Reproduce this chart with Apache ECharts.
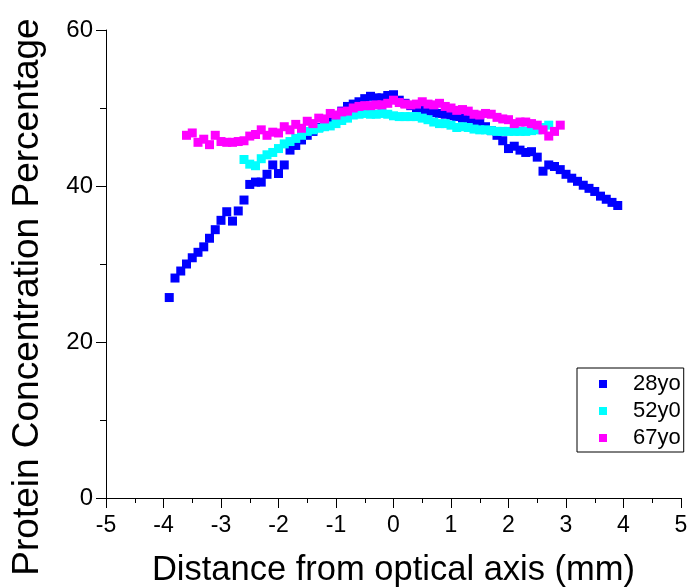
<!DOCTYPE html>
<html>
<head>
<meta charset="utf-8">
<script src="https://cdn.jsdelivr.net/npm/echarts@6/dist/echarts.min.js"></script>
<style>
html,body{margin:0;padding:0;background:#fff;}
#chart{width:689px;height:588px;}
</style>
</head>
<body>
<div id="chart"></div>
<script>
var seriesNames = ['28yo', '52y0', '67yo'];

var x28 = [-3.9,-3.8,-3.7,-3.6,-3.5,-3.4,-3.3,-3.2,-3.1,-3.0,-2.9,-2.8,-2.7,-2.6,-2.5,-2.4,-2.3,-2.2,-2.1,-2.0,
  -1.9,-1.8,-1.7,-1.6,-1.5,-1.4,-1.3,-1.2,-1.1,-1.0,-0.9,-0.8,-0.7,-0.6,-0.5,-0.4,-0.3,-0.2,-0.1,0.0,
  0.1,0.2,0.3,0.4,0.5,0.6,0.7,0.8,0.9,1.0,1.1,1.2,1.3,1.4,1.5,1.6,1.7,1.8,1.9,2.0,
  2.1,2.2,2.3,2.4,2.5,2.6,2.7,2.8,2.9,3.0,3.1,3.2,3.3,3.4,3.5,3.6,3.7,3.8,3.9];
var y28 = [25.7,28.2,29.1,30.0,30.8,31.5,32.2,33.3,34.4,35.6,36.7,35.5,36.8,38.2,40.2,40.5,40.5,41.5,42.7,41.6,
  42.7,44.6,45.2,45.9,46.5,47.0,47.5,48.0,48.5,49.0,49.6,50.2,50.5,50.8,51.2,51.5,51.3,51.3,51.6,51.7,
  51.0,50.6,50.3,50.0,49.8,49.6,49.4,49.3,49.2,49.0,48.9,48.7,48.5,48.3,48.2,47.6,47.1,46.5,45.8,44.8,
  45.1,44.6,44.3,44.4,43.7,41.9,42.7,42.5,42.1,41.5,41.0,40.6,40.1,39.7,39.3,38.7,38.3,37.9,37.5];

var x52 = [-2.6,-2.5,-2.4,-2.3,-2.2,-2.1,-2.0,-1.9,-1.8,-1.7,-1.6,-1.5,-1.4,-1.3,-1.2,-1.1,-1.0,-0.9,-0.8,-0.7,
  -0.6,-0.5,-0.4,-0.3,-0.2,-0.1,0.0,0.1,0.2,0.3,0.4,0.5,0.6,0.7,0.8,0.9,1.0,1.1,1.2,1.3,
  1.4,1.5,1.6,1.7,1.8,1.9,2.0,2.1,2.2,2.3,2.4,2.5,2.6,2.7];
var y52 = [43.4,42.8,42.6,43.5,44.0,44.3,44.8,45.4,45.7,46.1,46.5,47.0,47.2,47.4,47.6,47.7,48.0,48.4,48.7,49.1,
  49.2,49.3,49.2,49.2,49.3,49.2,49.0,48.9,48.9,48.9,48.9,48.7,48.5,48.2,48.0,48.0,47.8,47.5,47.6,47.5,
  47.3,47.2,47.2,47.1,47.0,47.0,47.0,47.0,47.0,47.0,47.1,47.2,47.5,47.8];

var x67 = [-3.6,-3.5,-3.4,-3.3,-3.2,-3.1,-3.0,-2.9,-2.8,-2.7,-2.6,-2.5,-2.4,-2.3,-2.2,-2.1,-2.0,-1.9,-1.8,-1.7,
  -1.6,-1.5,-1.4,-1.3,-1.2,-1.1,-1.0,-0.9,-0.8,-0.7,-0.6,-0.5,-0.4,-0.3,-0.2,-0.1,0.0,0.1,0.2,0.3,
  0.4,0.5,0.6,0.7,0.8,0.9,1.0,1.1,1.2,1.3,1.4,1.5,1.6,1.7,1.8,1.9,2.0,2.1,2.2,2.3,
  2.4,2.5,2.6,2.7,2.8,2.9];
var y67 = [46.5,46.8,45.6,46.0,45.3,46.5,45.7,45.6,45.6,45.7,45.8,46.4,46.6,47.2,46.5,46.9,46.8,47.6,47.2,47.9,
  47.4,48.3,48.0,48.7,48.6,49.3,49.1,49.5,49.6,50.0,50.2,50.3,50.3,50.4,50.4,50.6,51.0,50.7,50.5,50.4,
  50.5,50.8,50.5,50.4,50.6,50.2,50.0,49.7,49.8,49.6,49.2,49.1,49.3,49.2,48.8,48.6,48.5,48.0,48.2,48.2,
  48.0,47.8,47.2,46.4,47.0,47.8];

var xTicks = [-5,-4,-3,-2,-1,0,1,2,3,4,5];
var yTicks = [0,20,40,60];
var colors = ['#0000FF', '#00FFFF', '#FF00FF'];

function pairs(xs, ys) {
  var out = [];
  for (var i = 0; i < xs.length; i++) out.push([xs[i], ys[i]]);
  return out;
}
var allData = [pairs(x28, y28), pairs(x52, y52), pairs(x67, y67)];

var font = '"Liberation Sans", Arial, Helvetica, sans-serif';
var chart = echarts.init(document.getElementById('chart'), null, {renderer: 'canvas'});
chart.setOption({
  animation: false,
  backgroundColor: '#fff',
  textStyle: {fontFamily: font},
  grid: {left: 106, right: 8, top: 30, bottom: 90, containLabel: false, outerBoundsMode: 'none'},
  xAxis: {
    type: 'value',
    min: xTicks[0], max: xTicks[xTicks.length - 1], interval: 1,
    name: 'Distance from optical axis (mm)',
    nameLocation: 'middle', nameGap: 55,
    nameTextStyle: {fontSize: 34.5, color: '#000', fontFamily: font},
    axisLine: {show: true, onZero: false, lineStyle: {color: '#000', width: 1}},
    axisTick: {show: true, inside: false, length: 10, lineStyle: {color: '#000'}},
    minorTick: {show: true, splitNumber: 2, length: 5, lineStyle: {color: '#000'}},
    axisLabel: {fontSize: 23, color: '#000', margin: 16, fontFamily: font},
    splitLine: {show: false}
  },
  yAxis: {
    type: 'value',
    min: yTicks[0], max: yTicks[yTicks.length - 1], interval: 20,
    name: 'Protein Concentration Percentage',
    nameLocation: 'middle', nameGap: 60,
    nameTextStyle: {fontSize: 37, color: '#000', fontFamily: font, padding: [0, 66, 0, 0]},
    axisLine: {show: true, onZero: false, lineStyle: {color: '#000', width: 1}},
    axisTick: {show: true, inside: false, length: 10, lineStyle: {color: '#000'}},
    minorTick: {show: true, splitNumber: 2, length: 6, lineStyle: {color: '#000'}},
    axisLabel: {fontSize: 24, color: '#000', margin: 13, fontFamily: font},
    splitLine: {show: false}
  },
  legend: {
    orient: 'vertical',
    left: 577, top: 368,
    padding: [5, 3, 3, 22],
    itemWidth: 8, itemHeight: 8, itemGap: 5,
    icon: 'rect',
    borderColor: '#000', borderWidth: 1,
    textStyle: {fontSize: 22, lineHeight: 22, color: '#000', fontFamily: font, padding: [0, 0, 0, 21]},
    data: seriesNames
  },
  series: seriesNames.map(function (n, i) {
    return {
      name: n,
      type: 'scatter',
      symbol: 'rect',
      symbolSize: 9,
      itemStyle: {color: colors[i], opacity: 1},
      emphasis: {disabled: true},
      data: allData[i],
      z: 2 + i
    };
  })
});
</script>
</body>
</html>
